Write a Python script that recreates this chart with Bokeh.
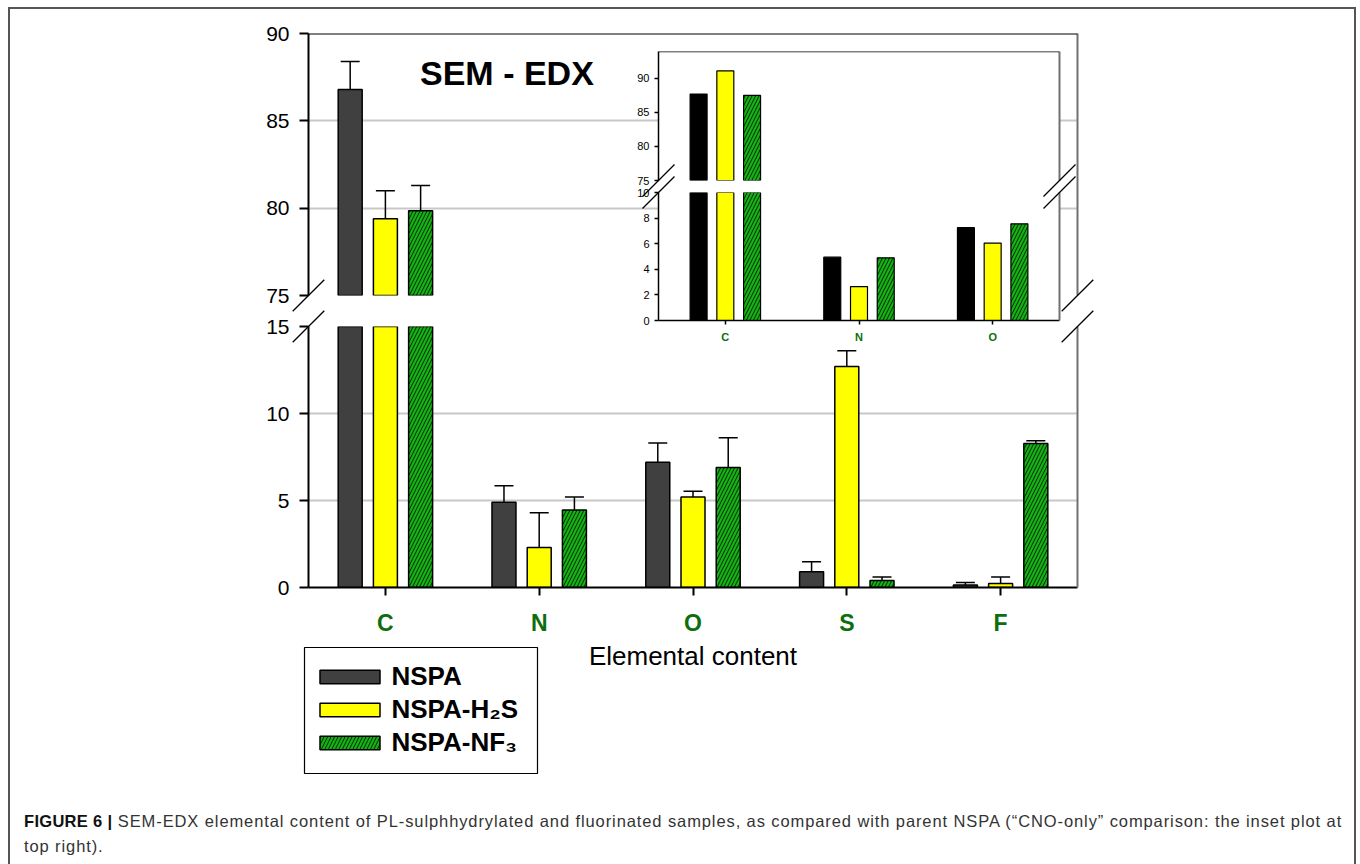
import numpy as np
from bokeh.plotting import figure
from bokeh.models import (ColumnDataSource, LinearAxis, FixedTicker, Span, Range1d,
                          Legend, LegendItem, Label, Div)
from bokeh.transform import dodge
from bokeh.embed import file_html
from bokeh.resources import INLINE

# ---------------- data ----------------
elements = ["C", "N", "O", "S", "F"]
series_labels = ["NSPA", "NSPA-H₂S", "NSPA-NF₃"]
nspa = [86.8, 4.9, 7.2, 0.9, 0.15]
nspa_err = [1.6, 0.95, 1.1, 0.58, 0.14]
h2s = [79.4, 2.3, 5.2, 12.7, 0.23]
h2s_err = [1.6, 2.0, 0.33, 0.9, 0.37]
nf3 = [79.85, 4.45, 6.9, 0.4, 8.28]
nf3_err = [1.45, 0.75, 1.7, 0.21, 0.15]

inset_elements = ["C", "N", "O"]
inset_nspa = [87.7, 4.95, 7.25]
inset_h2s = [91.1, 2.65, 6.05]
inset_nf3 = [87.5, 4.9, 7.55]

upper_ticks = [75, 80, 85, 90]
lower_ticks = [0, 5, 10, 15]
inset_upper_ticks = [75, 80, 85, 90]
inset_lower_ticks = [0, 2, 4, 6, 8, 10]

# ---------------- style ----------------
FONT = "Liberation Sans"
TXT_GREEN = "#0d6e0d"
C_NSPA = "#404040"
C_NSPA_INSET = "#000000"
C_H2S = "#ffff00"
C_NF3 = "#14b414"
GRID = "#c8c8c8"
RBORDER = "#707070"

# panel frames on the page (left, top, width, height)
MU_FRAME = (308, 33, 769, 262)
ML_FRAME = (308, 326, 769, 261)
IU_FRAME = (658, 51, 401, 129)
IL_FRAME = (658, 192, 401, 128)

SERIES = [("nspa", nspa, nspa_err), ("h2s", h2s, h2s_err), ("nf3", nf3, nf3_err)]


def panel_source(els, series, lo, hi, with_err=True):
    """Bars whose value reaches into the panel's value range (clipped at its top)."""
    d = {"el": els}
    for key, vals, errs in series:
        v = np.array(vals, dtype=float)
        d[key] = np.where(v > lo, v, np.nan)
        if with_err:
            e = np.array(errs, dtype=float)
            ok = (v > lo) & (v < hi)
            d[key + "_base"] = np.where(ok, v, np.nan)
            d[key + "_hi"] = np.where(ok, v + e, np.nan)
    return ColumnDataSource(d)


mu_src = panel_source(elements, SERIES, 75, 90)
ml_src = panel_source(elements, SERIES, 0, 15)
INSET = [("nspa", inset_nspa, None), ("h2s", inset_h2s, None), ("nf3", inset_nf3, None)]
iu_src = panel_source(inset_elements, INSET, 75, 94, with_err=False)
il_src = panel_source(inset_elements, INSET, 0, 10, with_err=False)


def place(m, left, top, extra=None):
    st = {"position": "absolute", "left": f"{left}px", "top": f"{top}px"}
    if extra:
        st.update(extra)
    m.styles = st


def make_fig(factors, ylo, yhi, frame, ml, mt, mr, mb, xloc="below"):
    fl, ft, fw, fh = frame
    p = figure(x_range=factors, y_range=(ylo, yhi), width=ml + fw + mr, height=mt + fh + mb,
               min_border_left=ml, min_border_top=mt, min_border_right=mr,
               min_border_bottom=mb, toolbar_location=None, output_backend="svg",
               title=None, background_fill_color="white", border_fill_color=None,
               outline_line_color=None, x_axis_location=xloc)
    p.x_range.range_padding = 0
    p.xgrid.visible = False
    place(p, fl - ml, ft - mt)
    return p


def style_y(ax, ticks, size, tick_out, standoff, lw):
    ax.ticker = FixedTicker(ticks=ticks)
    ax.major_tick_in = 0
    ax.major_tick_out = tick_out
    ax.minor_tick_line_color = None
    ax.major_label_text_font = FONT
    ax.major_label_text_font_size = size
    ax.major_label_text_color = "black"
    ax.major_label_standoff = standoff
    ax.axis_line_width = lw
    ax.axis_line_color = "black"
    ax.major_tick_line_width = lw
    ax.major_tick_line_color = "black"


def border_lines(p, lw, top_value=None):
    if top_value is not None:
        p.add_layout(Span(location=top_value, dimension="width", line_color="black",
                          line_width=lw))
    r = LinearAxis(ticker=FixedTicker(ticks=[]), major_tick_out=0, major_tick_in=0,
                   axis_line_width=2, axis_line_color=RBORDER, major_label_standoff=0)
    p.add_layout(r, "right")


def add_bars(p, src, key, off, width, fill, hatch=False, lw=1.5, visible=True):
    kw = dict(x=dodge("el", off, range=p.x_range), top=key, bottom=0, width=width,
              source=src, fill_color=fill, line_color="black", line_width=lw)
    if hatch:
        kw.update(hatch_pattern="/", hatch_color="black", hatch_scale=7, hatch_weight=0.8)
    r = p.vbar(**kw)
    r.visible = visible
    return r


def add_err(p, src, key, off):
    x = dodge("el", off, range=p.x_range)
    p.segment(x0=x, y0=key + "_base", x1=x, y1=key + "_hi", source=src,
              line_color="black", line_width=1.5)
    p.scatter(x=x, y=key + "_hi", marker="dash", size=19, line_color="black",
              line_width=1.5, source=src)


OFF = 0.229
BW = 0.156
MAIN_STYLE = [("nspa", -OFF, C_NSPA, False), ("h2s", 0, C_H2S, False), ("nf3", OFF, C_NF3, True)]

# ---------------- outer frame ----------------
frame_div = Div(text="", width=1348, height=857, margin=0)
place(frame_div, 8, 7, {"box-sizing": "border-box", "border-left": "2px solid #555",
                        "border-top": "2px solid #555", "border-right": "2px solid #555"})

# ---------------- main upper panel (75-90) ----------------
mu = make_fig(elements, 75, 90, MU_FRAME, 108, 25, 40, 30, xloc=None)
style_y(mu.yaxis[0], upper_ticks, "21px", 9, 10, 2)
mu.ygrid.ticker = FixedTicker(ticks=[75, 80, 85])
mu.ygrid.grid_line_color = GRID
mu.ygrid.grid_line_width = 2
border_lines(mu, 2, top_value=90)
for key, off, col, h in MAIN_STYLE:
    add_bars(mu, mu_src, key, off, BW, col, h)
    add_err(mu, mu_src, key, off)
mu.add_layout(Label(x=1.29, y=87.74, text="SEM - EDX", text_font=FONT,
                    text_font_size="34px", text_font_style="bold", text_align="center",
                    text_baseline="middle", text_color="black"))
mu.add_layout(Label(x=-0.195, y=87.5, text="%", text_font=FONT, text_font_size="22px",
                    text_font_style="bold", text_align="center", text_baseline="middle",
                    text_color=TXT_GREEN))

# ---------------- main lower panel (0-15) ----------------
ml = make_fig(elements, 0, 15, ML_FRAME, 108, 20, 40, 120)
style_y(ml.yaxis[0], lower_ticks, "21px", 9, 10, 2)
ml.ygrid.ticker = FixedTicker(ticks=[5, 10, 15])
ml.ygrid.grid_line_color = GRID
ml.ygrid.grid_line_width = 2
border_lines(ml, 2)
xa = ml.xaxis[0]
xa.major_tick_in = 0
xa.major_tick_out = 8
xa.major_tick_line_width = 2
xa.major_tick_line_color = "black"
xa.axis_line_width = 2
xa.axis_line_color = "black"
xa.major_label_text_font = FONT
xa.major_label_text_font_size = "23px"
xa.major_label_text_font_style = "bold"
xa.major_label_text_color = TXT_GREEN
xa.major_label_standoff = 14
xa.axis_label = "Elemental content"
xa.axis_label_text_font = FONT
xa.axis_label_text_font_size = "26px"
xa.axis_label_text_font_style = "normal"
xa.axis_label_text_color = "black"
xa.axis_label_standoff = 2
for key, off, col, h in MAIN_STYLE:
    add_bars(ml, ml_src, key, off, BW, col, h)
    add_err(ml, ml_src, key, off)

# ---------------- inset upper ----------------
IOFF = 0.2
IBW = 0.127
INSET_STYLE = [("nspa", -IOFF, C_NSPA_INSET, False), ("h2s", 0, C_H2S, False),
               ("nf3", IOFF, C_NF3, True)]
iu = make_fig(inset_elements, 75, 93.95, IU_FRAME, 58, 21, 24, 24, xloc=None)
style_y(iu.yaxis[0], inset_upper_ticks, "11px", 4, 5, 1.5)
iu.ygrid.visible = False
border_lines(iu, 1.5, top_value=93.95)
for key, off, col, h in INSET_STYLE:
    add_bars(iu, iu_src, key, off, IBW, col, h, lw=1.2)

# ---------------- inset lower ----------------
il = make_fig(inset_elements, 0, 10, IL_FRAME, 58, 12, 24, 30)
style_y(il.yaxis[0], inset_lower_ticks, "11px", 4, 5, 1.5)
il.ygrid.visible = False
border_lines(il, 1.5)
ixa = il.xaxis[0]
ixa.major_tick_in = 0
ixa.major_tick_out = 4
ixa.major_tick_line_width = 1.5
ixa.axis_line_width = 1.5
ixa.axis_line_color = "black"
ixa.major_label_text_font = FONT
ixa.major_label_text_font_size = "11px"
ixa.major_label_text_font_style = "bold"
ixa.major_label_text_color = TXT_GREEN
ixa.major_label_standoff = 6
for key, off, col, h in INSET_STYLE:
    add_bars(il, il_src, key, off, IBW, col, h, lw=1.2)

# ---------------- axis-break marks (overlay canvas in page pixels) ----------------
OV = (280, 150, 830, 210)   # left, top, width, height of the overlay
ov = figure(x_range=Range1d(OV[0], OV[0] + OV[2]), y_range=Range1d(OV[1] + OV[3], OV[1]),
            width=OV[2], height=OV[3], min_border=0, toolbar_location=None,
            output_backend="svg", title=None, x_axis_location=None, y_axis_location=None,
            outline_line_color=None, border_fill_color=None, background_fill_color=None)
ov.xgrid.visible = False
ov.ygrid.visible = False
bx0, bx1, by0, by1 = [], [], [], []


def break_marks(upper, lower, half):
    for fr, yy in ((upper, upper[1] + upper[3]), (lower, lower[1])):
        for xx in (fr[0], fr[0] + fr[2]):
            bx0.append(xx - half); by0.append(yy + half)
            bx1.append(xx + half); by1.append(yy - half)


break_marks(MU_FRAME, ML_FRAME, 15.8)
break_marks(IU_FRAME, IL_FRAME, 16)
ov.segment(x0=bx0, y0=by0, x1=bx1, y1=by1, line_color="black", line_width=1.3)
place(ov, OV[0], OV[1])

# ---------------- legend (own small canvas, frame outline = legend box) ----------------
lg = figure(x_range=elements, y_range=(0, 1), width=237, height=130,
            min_border=2, toolbar_location=None, output_backend="svg", title=None,
            x_axis_location=None, y_axis_location=None, outline_line_color="black",
            outline_line_width=1.2, border_fill_color=None, background_fill_color="white")
lg.xgrid.visible = False
lg.ygrid.visible = False
lrends = [add_bars(lg, ml_src, key, off, BW, col, h, visible=False)
          for key, off, col, h in MAIN_STYLE]
legend = Legend(items=[LegendItem(label=s, renderers=[r]) for s, r in zip(series_labels, lrends)],
                location=(7.5, 14.75), margin=0, padding=0, spacing=2,
                glyph_width=75, glyph_height=17, label_standoff=5, label_height=28,
                label_text_font=FONT, label_text_font_size="26px",
                label_text_font_style="bold", label_text_color="black",
                border_line_color=None, background_fill_alpha=0)
lg.add_layout(legend)
place(lg, 302, 645)

# ---------------- caption ----------------
caption = Div(text=('<b style="color:#111;letter-spacing:0.3px">FIGURE 6 |</b> SEM-EDX elemental '
                    'content of PL-sulphhydrylated and fluorinated samples, as compared with '
                    'parent NSPA (“CNO-only” comparison: the inset plot at<br>top right).'),
              width=1330, height=56, margin=0)
place(caption, 24, 809, {"font-family": "Liberation Sans", "font-size": "16.5px",
                         "letter-spacing": "0.9px", "line-height": "25px", "color": "#333",
                         "white-space": "nowrap"})

open("out.html", "w").write(file_html([frame_div, mu, ml, iu, il, ov, lg, caption], INLINE))
